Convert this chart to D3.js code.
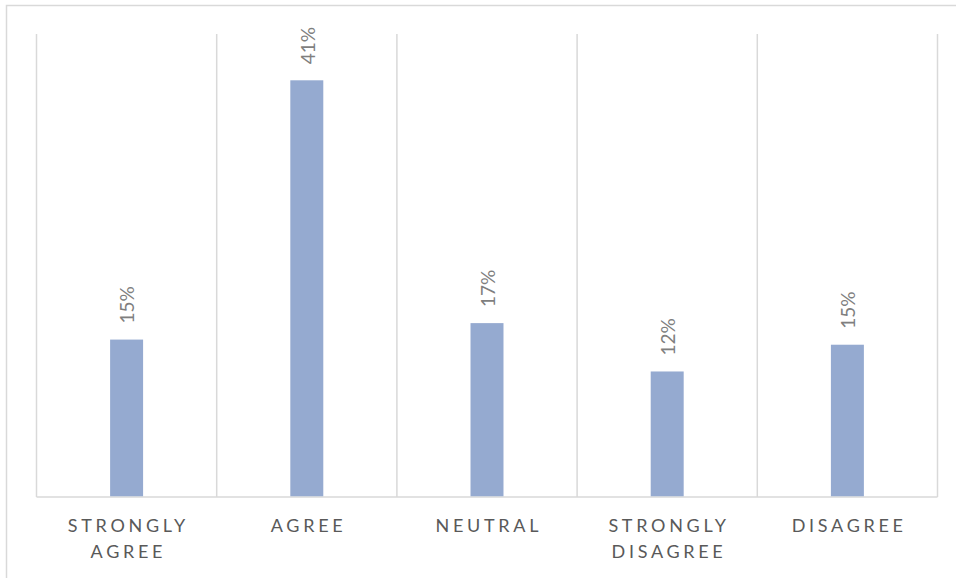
<!DOCTYPE html>
<html>
<head>
<meta charset="utf-8">
<script src="https://cdn.jsdelivr.net/npm/d3@7"></script>
<style>
  body { margin: 0; background: #ffffff; }
  svg { display: block; }
</style>
</head>
<body>
<div id="chart"></div>
<script>
// categories and values
var categories = [["STRONGLY", "AGREE"], ["AGREE"], ["NEUTRAL"], ["STRONGLY", "DISAGREE"], ["DISAGREE"]];
var shares = [0.153, 0.405, 0.169, 0.122, 0.148];
var yMax = 0.45;

var width = 956, height = 578;
var margin = {top: 34, right: 18.5, bottom: 81, left: 36.5};
var plotW = width - margin.left - margin.right,
    plotH = height - margin.top - margin.bottom;

var data = categories.map(function (c, i) { return {name: c, key: c.join(" "), value: shares[i]}; });

var svg = d3.select("#chart").append("svg")
    .attr("width", width)
    .attr("height", height);

// chart border
svg.append("rect")
    .attr("x", 6.5).attr("y", 5.5)
    .attr("width", width + 10).attr("height", height + 10)
    .attr("fill", "none")
    .attr("stroke", "#d9d9d9")
    .attr("stroke-width", 1.5);

var g = svg.append("g")
    .attr("transform", "translate(" + margin.left + "," + margin.top + ")");

var x = d3.scaleBand().domain(data.map(function (d) { return d.key; })).range([0, plotW]).padding(0);
var y = d3.scaleLinear().domain([0, yMax]).range([plotH, 0]);

// vertical gridlines at category boundaries
var bounds = x.domain().map(function (k) { return x(k); }).concat([plotW]);
g.selectAll("line.grid")
    .data(bounds)
    .enter().append("line")
    .attr("class", "grid")
    .attr("x1", function (d) { return d; })
    .attr("x2", function (d) { return d; })
    .attr("y1", 0)
    .attr("y2", plotH)
    .attr("stroke", "#d9d9d9")
    .attr("stroke-width", 1.5);

// baseline
g.append("line")
    .attr("x1", 0).attr("x2", plotW)
    .attr("y1", plotH).attr("y2", plotH)
    .attr("stroke", "#d9d9d9")
    .attr("stroke-width", 1.5);

var barW = x.bandwidth() * 0.183;

g.selectAll("rect.bar")
    .data(data)
    .enter().append("rect")
    .attr("class", "bar")
    .attr("x", function (d) { return x(d.key) + x.bandwidth() / 2 - barW / 2; })
    .attr("y", function (d) { return y(d.value); })
    .attr("width", barW)
    .attr("height", function (d) { return plotH - y(d.value) - 0.75; })
    .attr("fill", "#95aad0");

// rotated value labels
g.selectAll("text.val")
    .data(data)
    .enter().append("text")
    .attr("class", "val")
    .attr("transform", function (d) {
      return "translate(" + (x(d.key) + x.bandwidth() / 2 + 1) + "," + (y(d.value) - 16) + ") rotate(-90)";
    })
    .attr("dy", "0.36em")
    .attr("text-anchor", "start")
    .style("font-family", "Lato, 'Open Sans', sans-serif")
    .style("font-size", "19px")
    .style("fill", "#7f7f7f")
    .text(function (d) { return Math.round(d.value * 100) + "%"; });

// category labels
var cat = g.selectAll("text.cat")
    .data(data)
    .enter().append("text")
    .attr("class", "cat")
    .attr("text-anchor", "middle")
    .style("font-family", "Lato, 'Open Sans', sans-serif")
    .style("font-size", "18px")
    .style("letter-spacing", "3.7px")
    .style("fill", "#595959");

cat.selectAll("tspan")
    .data(function (d) { return d.name.map(function (n) { return {text: n, cx: x(d.key) + x.bandwidth() / 2}; }); })
    .enter().append("tspan")
    .attr("x", function (d) { return d.cx + 1.8; })
    .attr("y", function (d, i) { return plotH + 35 + i * 26; })
    .text(function (d) { return d.text; });
</script>
</body>
</html>
